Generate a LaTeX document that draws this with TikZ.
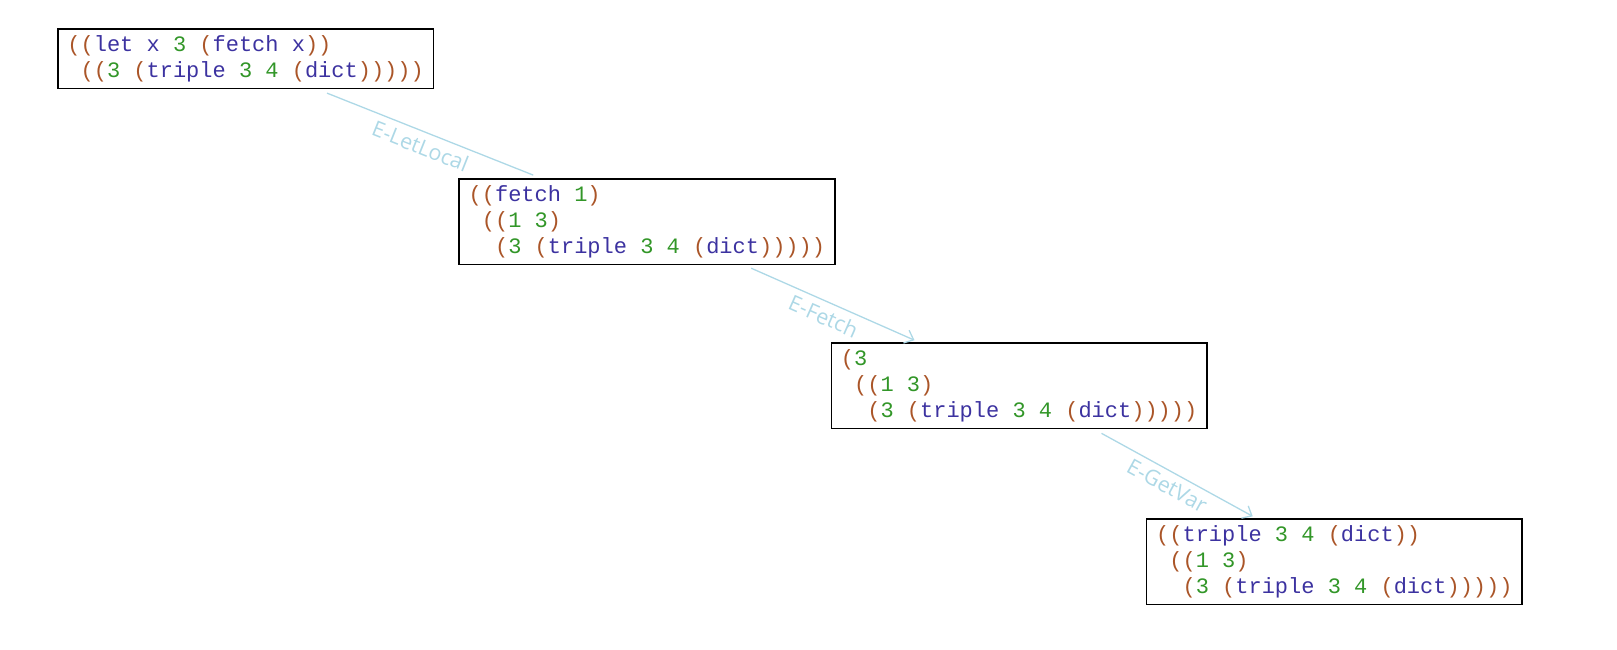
\documentclass[tikz,border=0pt]{standalone}
\usepackage{fontspec}
\usepackage{xcolor}
\usepackage{tikz}
\usetikzlibrary{arrows.meta, positioning}
\newfontfamily\codefont{Liberation Mono}
\newfontfamily\rulefont{Open Sans}

\definecolor{parencol}{RGB}{170,85,40}
\definecolor{identcol}{RGB}{60,50,160}
\definecolor{numcol}{RGB}{50,150,40}
\definecolor{rulecol}{RGB}{173,216,230}

\newcommand{\pn}[1]{\textcolor{parencol}{#1}}
\newcommand{\kw}[1]{\textcolor{identcol}{#1}}
\newcommand{\nm}[1]{\textcolor{numcol}{#1}}
\newcommand{\ind}{\hspace*{13.2pt}}
\newcommand{\monospaces}{\spaceskip 13.2pt\relax\xspaceskip 13.2pt\relax}

\begin{document}
\begin{tikzpicture}[
        term/.style = {draw, line width=1.6pt, inner xsep=9.6pt, inner ysep=6.5pt, align=left, font=\codefont\fontsize{22}{26}\selectfont, execute at begin node=\monospaces},
        trans/.style = {draw=rulecol, line width=1.3pt},
        rule/.style = {font=\rulefont\fontsize{21.5}{25}\selectfont, text=rulecol, sloped, below=2.5pt, pos=0.48}
    ]
    \useasboundingbox (0,0) rectangle (1617pt,-649pt);
    \node[term, anchor=north west] (s0) at (57pt,-28pt)
        {\pn{((}\kw{let} \kw{x} \nm{3} \pn{(}\kw{fetch} \kw{x}\pn{))}\\
         \ind\pn{((}\nm{3} \pn{(}\kw{triple} \nm{3} \nm{4} \pn{(}\kw{dict}\pn{)))))}};
    \node[term, below right=89pt and 24pt of s0.south east] (s1)
        {\pn{((}\kw{fetch} \nm{1}\pn{)}\\
         \ind\pn{((}\nm{1} \nm{3}\pn{)}\\
         \ind\ind\pn{(}\nm{3} \pn{(}\kw{triple} \nm{3} \nm{4} \pn{(}\kw{dict}\pn{)))))}};
    \node[term, below right=77pt and -5pt of s1.south east] (s2)
        {\pn{(}\nm{3}\\
         \ind\pn{((}\nm{1} \nm{3}\pn{)}\\
         \ind\ind\pn{(}\nm{3} \pn{(}\kw{triple} \nm{3} \nm{4} \pn{(}\kw{dict}\pn{)))))}};
    \node[term, below right=89pt and -62pt of s2.south east] (s3)
        {\pn{((}\kw{triple} \nm{3} \nm{4} \pn{(}\kw{dict}\pn{))}\\
         \ind\pn{((}\nm{1} \nm{3}\pn{)}\\
         \ind\ind\pn{(}\nm{3} \pn{(}\kw{triple} \nm{3} \nm{4} \pn{(}\kw{dict}\pn{)))))}};

    \draw[trans] ([xshift=270pt, yshift=-4pt]s0.south west) -- node[rule] {E-LetLocal} ([xshift=75pt, yshift=3pt]s1.north west);
    \draw[trans, -{Straight Barb[length=8pt, width=14pt]}] ([xshift=293pt, yshift=-3pt]s1.south west) -- node[rule] {E-Fetch} ([xshift=84pt, yshift=2pt]s2.north west);
    \draw[trans, -{Straight Barb[length=8pt, width=14pt]}] ([xshift=271pt, yshift=-4pt]s2.south west) -- node[rule] {E-GetVar} ([xshift=107pt, yshift=2pt]s3.north west);
\end{tikzpicture}
\end{document}
